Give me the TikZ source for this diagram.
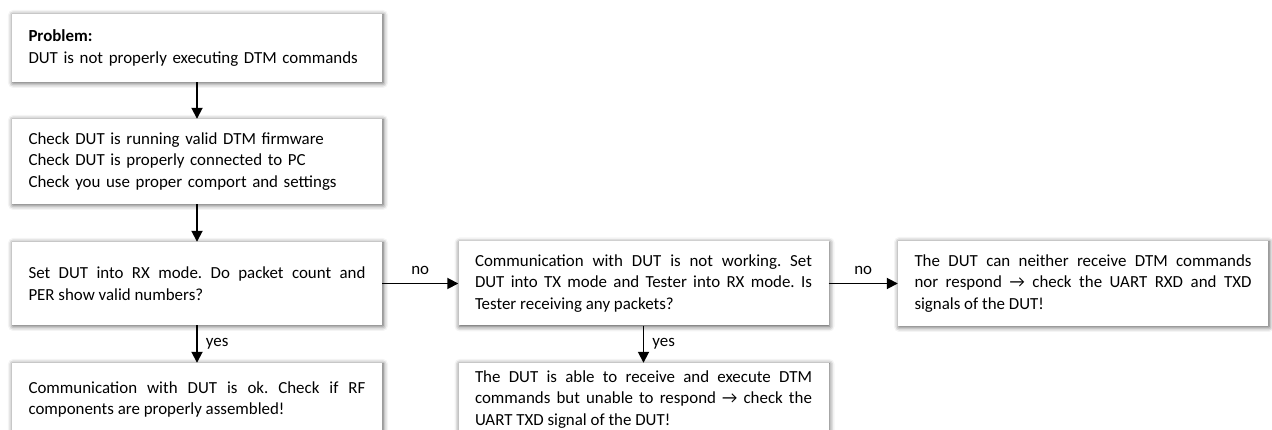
\documentclass[tikz,border=0pt]{standalone}
\usepackage{fontspec}
\setmainfont{Carlito}
\usetikzlibrary{arrows, arrows.meta}
\usetikzlibrary{shadows.blur}
\frenchspacing
\hyphenpenalty=10000

\tikzset{
  stepbox/.style={fill=white, inner xsep=16.5pt, inner ysep=0pt, text width=337pt,
    align=justify, minimum height=#1,
    blur shadow={shadow xshift=1pt, shadow yshift=-1pt, shadow blur radius=5pt, shadow opacity=70}},
  flow/.style={-{Triangle[length=11pt, width=11pt]}, line width=1.8pt},
  answer/.style={inner sep=2pt}
}

\begin{document}
\begin{tikzpicture}[x=1pt, y=1pt, font=\fontsize{16.9}{21.5}\selectfont]
      \useasboundingbox (0,0) rectangle (1272,430);

      \node[stepbox=68pt, align=left] (problem) at (197, 382) {\textbf{Problem:}\\DUT is not properly executing DTM commands};
      \node[stepbox=85pt, align=left] (checks) at (197, 268.5) {Check DUT is running valid DTM firmware\\Check DUT is properly connected to PC\\Check you use proper comport and settings};
      \node[stepbox=83pt] (rxtest) at (197, 146.5) {Set DUT into RX mode. Do packet count and\linebreak PER show valid numbers?};
      \node[stepbox=73pt] (rxok) at (197, 30.5) {Communication with DUT is ok. Check if RF\linebreak components are properly assembled!};
      \node[stepbox=84pt] (txtest) at (643.5, 146.5) {Communication with DUT is not working. Set\linebreak DUT into TX mode and Tester into RX mode. Is\linebreak Tester receiving any packets?};
      \node[stepbox=73pt] (txok) at (643.5, 30.5) {The DUT is able to receive and execute DTM\linebreak commands but unable to respond \textrightarrow{} check the\linebreak UART TXD signal of the DUT!};
      \node[stepbox=85pt] (fail) at (1083, 146.5) {The DUT can neither receive DTM commands\linebreak nor respond \textrightarrow{} check the UART RXD and TXD\linebreak signals of the DUT!};

      \draw[flow] (problem) -- (checks);
      \draw[flow] (checks) -- (rxtest);
      \draw[flow] (rxtest) -- node[answer, right=6pt] {yes} (rxok);
      \draw[flow] (rxtest) -- node[answer, above=6pt] {no} (txtest);
      \draw[flow] (txtest) -- node[answer, right=6pt] {yes} (txok);
      \draw[flow] (txtest) -- node[answer, above=6pt] {no} (fail);
    \end{tikzpicture}
\end{document}
